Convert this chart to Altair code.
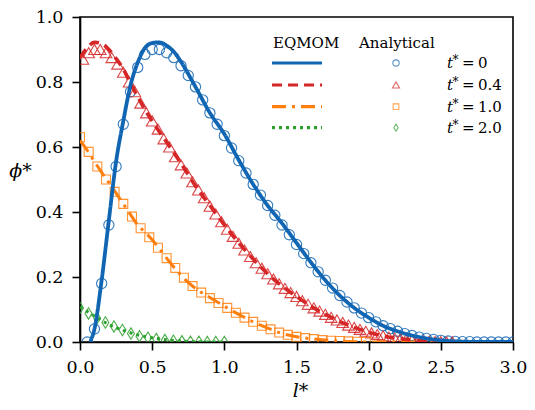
import altair as alt
import pandas as pd

FONT = "DejaVu Serif"

# ---------------- data ----------------
# EQMOM lines
BLUE_LX = [0.07, 0.1, 0.15, 0.2, 0.25, 0.3, 0.35, 0.4, 0.45, 0.5, 0.55, 0.6, 0.65, 0.7, 0.8, 0.9,
           1.0, 1.1, 1.2, 1.3, 1.4, 1.5, 1.6, 1.7, 1.8, 1.9, 2.0, 2.1, 2.2, 2.3, 2.4, 2.5, 2.6, 2.8, 3.0]
BLUE_LY = [0.0, 0.04, 0.19, 0.375, 0.555, 0.68, 0.79, 0.86, 0.905, 0.92, 0.922, 0.912, 0.893, 0.862, 0.785, 0.705,
           0.64, 0.56, 0.485, 0.42, 0.365, 0.305, 0.245, 0.19, 0.143, 0.105, 0.075, 0.05, 0.033, 0.02, 0.011, 0.005, 0.002, 0.0, 0.0]

RED_LX = [0.0, 0.05, 0.1, 0.15, 0.2, 0.25, 0.3, 0.35, 0.4, 0.45, 0.5, 0.6, 0.7, 0.8, 0.9, 1.0,
          1.1, 1.2, 1.3, 1.4, 1.5, 1.6, 1.7, 1.8, 1.9, 2.0, 2.1, 2.2, 2.3, 2.4, 2.5, 3.0]
RED_LY = [0.875, 0.905, 0.922, 0.918, 0.9, 0.872, 0.84, 0.795, 0.755, 0.715, 0.68, 0.615, 0.55, 0.48, 0.42, 0.36,
          0.305, 0.255, 0.21, 0.172, 0.14, 0.11, 0.085, 0.063, 0.045, 0.03, 0.019, 0.011, 0.006, 0.002, 0.0, 0.0]

ORANGE_LX = [0.0, 0.05, 0.1, 0.15, 0.2, 0.25, 0.3, 0.35, 0.4, 0.45, 0.5, 0.6, 0.7, 0.8, 0.9, 1.0,
             1.1, 1.2, 1.3, 1.4, 1.5, 1.6, 1.7, 1.8, 1.9, 2.0, 3.0]
ORANGE_LY = [0.62, 0.59, 0.555, 0.522, 0.49, 0.458, 0.425, 0.392, 0.36, 0.338, 0.315, 0.258, 0.205, 0.165, 0.137, 0.11,
             0.085, 0.062, 0.043, 0.026, 0.016, 0.01, 0.006, 0.003, 0.001, 0.0, 0.0]

GREEN_LX = [0.0, 0.1, 0.2, 0.3, 0.4, 0.5, 0.6, 0.7, 0.8, 0.9, 1.0]
GREEN_LY = [0.108, 0.08, 0.054, 0.036, 0.022, 0.013, 0.007, 0.003, 0.001, 0.0, 0.0]

# Analytical points
CIRC_X = [0.05, 0.10, 0.15, 0.20, 0.25, 0.30, 0.35, 0.40, 0.45, 0.50, 0.55, 0.60, 0.65, 0.70, 0.75,
          0.80, 0.85, 0.90, 0.95, 1.00, 1.05, 1.10, 1.15, 1.20, 1.25, 1.30, 1.35, 1.40, 1.45, 1.50,
          1.55, 1.60, 1.65, 1.70, 1.75, 1.80, 1.85, 1.90, 1.95, 2.00, 2.05, 2.10, 2.15, 2.20, 2.25,
          2.30, 2.35, 2.40, 2.45, 2.50, 2.55, 2.60, 2.65, 2.70, 2.75, 2.80, 2.85, 2.90, 2.95, 3.00]
CIRC_Y = [0.0, 0.04, 0.18, 0.36, 0.54, 0.67, 0.77, 0.845, 0.885, 0.9, 0.9, 0.89, 0.875, 0.85, 0.82,
          0.785, 0.745, 0.705, 0.67, 0.635, 0.597, 0.558, 0.52, 0.485, 0.452, 0.42, 0.39, 0.36, 0.33, 0.3,
          0.272, 0.244, 0.216, 0.19, 0.166, 0.143, 0.123, 0.105, 0.089, 0.075, 0.062, 0.05, 0.041, 0.033, 0.026,
          0.02, 0.015, 0.011, 0.008, 0.005, 0.003, 0.002, 0.001, 0.001, 0.0, 0.0, 0.0, 0.0, 0.0, 0.0]

TRI_X = [0.02, 0.06, 0.10, 0.14, 0.18, 0.22, 0.26, 0.30, 0.34, 0.38, 0.42, 0.46, 0.50, 0.54, 0.58,
         0.62, 0.66, 0.70, 0.74, 0.78, 0.82, 0.86, 0.90, 0.94, 0.98, 1.02, 1.06, 1.10, 1.14, 1.18,
         1.22, 1.26, 1.30, 1.34, 1.38, 1.42, 1.46, 1.50, 1.54, 1.58, 1.62, 1.66, 1.70, 1.74, 1.78,
         1.82, 1.86, 1.90, 1.94, 1.98, 2.02, 2.06, 2.10, 2.14, 2.18, 2.22, 2.26, 2.30, 2.34, 2.38,
         2.42, 2.46, 2.50, 2.54, 2.58]
TRI_Y = [0.87, 0.89, 0.9, 0.9, 0.89, 0.875, 0.855, 0.83, 0.8, 0.77, 0.735, 0.705, 0.68, 0.655, 0.625,
         0.6, 0.57, 0.545, 0.52, 0.493, 0.468, 0.444, 0.418, 0.394, 0.37, 0.347, 0.325, 0.304, 0.283, 0.263,
         0.244, 0.227, 0.21, 0.194, 0.179, 0.165, 0.152, 0.14, 0.127, 0.116, 0.105, 0.095, 0.085, 0.076, 0.068,
         0.06, 0.052, 0.045, 0.039, 0.033, 0.028, 0.023, 0.019, 0.015, 0.012, 0.01, 0.008, 0.006, 0.004, 0.003,
         0.002, 0.001, 0.001, 0.0, 0.0]

SQ_X = [0.00, 0.06, 0.12, 0.18, 0.24, 0.30, 0.36, 0.42, 0.48, 0.54, 0.60, 0.66, 0.72, 0.78, 0.84,
        0.90, 0.96, 1.02, 1.08, 1.14, 1.20, 1.26, 1.32, 1.38, 1.44, 1.50, 1.56, 1.62, 1.68, 1.74,
        1.80, 1.86, 1.92, 1.98]
SQ_Y = [0.63, 0.585, 0.54, 0.5, 0.462, 0.425, 0.386, 0.35, 0.322, 0.29, 0.258, 0.228, 0.198, 0.172, 0.152,
        0.135, 0.12, 0.105, 0.09, 0.075, 0.062, 0.05, 0.039, 0.029, 0.022, 0.016, 0.012, 0.009, 0.006, 0.004,
        0.003, 0.002, 0.001, 0.0]

DIA_X = [0.0, 0.059, 0.118, 0.176, 0.235, 0.294, 0.353, 0.412, 0.471, 0.529, 0.588, 0.647, 0.706,
         0.765, 0.824, 0.882, 0.941, 1.0]
DIA_Y = [0.105, 0.088, 0.074, 0.06, 0.048, 0.037, 0.026, 0.018, 0.013, 0.009, 0.006, 0.004, 0.002,
         0.001, 0.001, 0.0, 0.0, 0.0]

X_TICKS = [0.0, 0.5, 1.0, 1.5, 2.0, 2.5, 3.0]
Y_TICKS = [0.0, 0.2, 0.4, 0.6, 0.8, 1.0]
LEGEND_VALUES = ["0", "0.4", "1.0", "2.0"]
HEADERS = ["EQMOM", "Analytical"]

# ---------------- styles ----------------
BLUE, RED, ORANGE, GREEN = "#1166b3", "#d62728", "#ff7f0e", "#2ca02c"
COLORS = [BLUE, RED, ORANGE, GREEN]
DASHES = [[1, 0], [10, 6], [14, 6, 3, 6], [3, 4]]
LINE_W = [3.8, 3.6, 3.0, 3.0]
DIAMOND = "M0,-1L0.62,0L0,1L-0.62,0Z"
SHAPES = ["circle", "triangle-up", "square", DIAMOND]
SIZES = [105, 135, 80, 130]
LEG_SIZES = [40, 50, 32, 50]

W, H = 433, 325

xscale = alt.Scale(domain=[0, 3], nice=False, zero=False)
yscale = alt.Scale(domain=[0, 1], nice=False, zero=False)
common_axis = dict(labelFont=FONT, labelFontSize=17.5, labelColor="black",
                   titleFont=FONT, titleFontSize=19, titleFontWeight="normal",
                   titleFontStyle="italic", titleColor="black",
                   domainColor="black", domainWidth=1.6, tickColor="black", tickWidth=1.6,
                   tickSize=8, labelFlush=False, grid=False, titleAlign="center",
                   titleBaseline="middle")
xaxis = alt.Axis(values=X_TICKS, format=".1f", title="l*",
                 titleX=220, titleY=48, labelPadding=8, **common_axis)
yaxis = alt.Axis(values=Y_TICKS, format=".1f", title="ϕ*",
                 titleAngle=0, titleX=-60, titleY=153, labelPadding=9, **common_axis)


def frame(xs, ys):
    return pd.DataFrame({"l": xs, "phi": ys})


def enc(first=False):
    if first:
        return dict(x=alt.X("l:Q", scale=xscale, axis=xaxis),
                    y=alt.Y("phi:Q", scale=yscale, axis=yaxis))
    return dict(x=alt.X("l:Q", scale=xscale), y=alt.Y("phi:Q", scale=yscale))


point_sets = [(CIRC_X, CIRC_Y), (TRI_X, TRI_Y), (SQ_X, SQ_Y), (DIA_X, DIA_Y)]
line_sets = [(BLUE_LX, BLUE_LY), (RED_LX, RED_LY), (ORANGE_LX, ORANGE_LY), (GREEN_LX, GREEN_LY)]

layers = []
for i, (px, py) in enumerate(point_sets):
    layers.append(
        alt.Chart(frame(px, py)).mark_point(
            shape=SHAPES[i], filled=False, color=COLORS[i], size=SIZES[i],
            strokeWidth=1.1, opacity=0.85, clip=True
        ).encode(**enc(first=(i == 0)))
    )

for i in [3, 2, 1, 0]:
    lx, ly = line_sets[i]
    layers.append(
        alt.Chart(frame(lx, ly)).mark_line(
            color=COLORS[i], strokeDash=DASHES[i], strokeWidth=LINE_W[i],
            clip=True, interpolate="monotone"
        ).encode(**enc())
    )

# ---------------- hand-built legend (pixel positions inside the plot) ----------------
one = pd.DataFrame({"k": [0]})


def text(s, x, y, size, style="normal", baseline="middle", align="left"):
    return alt.Chart(one).mark_text(
        text=s, font=FONT, fontSize=size, fontStyle=style, align=align,
        baseline=baseline, color="black"
    ).encode(x=alt.value(x), y=alt.value(y))


layers.append(text(HEADERS[0], 193, 31, 15, baseline="alphabetic"))
layers.append(text(HEADERS[1], 279, 31, 15, baseline="alphabetic"))

ROW_Y = [46, 68, 89.7, 110.7]
for i, val in enumerate(LEGEND_VALUES):
    y = ROW_Y[i]
    layers.append(
        alt.Chart(one).mark_rule(color=COLORS[i], strokeDash=DASHES[i], strokeWidth=3.2)
        .encode(x=alt.value(192), x2=alt.value(242), y=alt.value(y))
    )
    layers.append(
        alt.Chart(one).mark_point(shape=SHAPES[i], filled=False, color=COLORS[i],
                                  size=LEG_SIZES[i], strokeWidth=1.1)
        .encode(x=alt.value(316), y=alt.value(y))
    )
    layers.append(text("t", 367, y, 15, style="italic"))
    layers.append(text("*", 372.5, y - 3, 12))
    layers.append(text("=", 382, y, 15))
    layers.append(text(val, 398, y, 15))

chart = alt.layer(*layers).properties(
    width=W, height=H,
    autosize=alt.AutoSizeParams(type="none"),
    padding={"left": 72, "top": 9, "right": 14, "bottom": 60},
    background="white",
).configure(
    font=FONT
).configure_view(
    stroke="black", strokeWidth=1.6
)

chart.save("out.html", embed_options={"renderer": "svg", "actions": False})
